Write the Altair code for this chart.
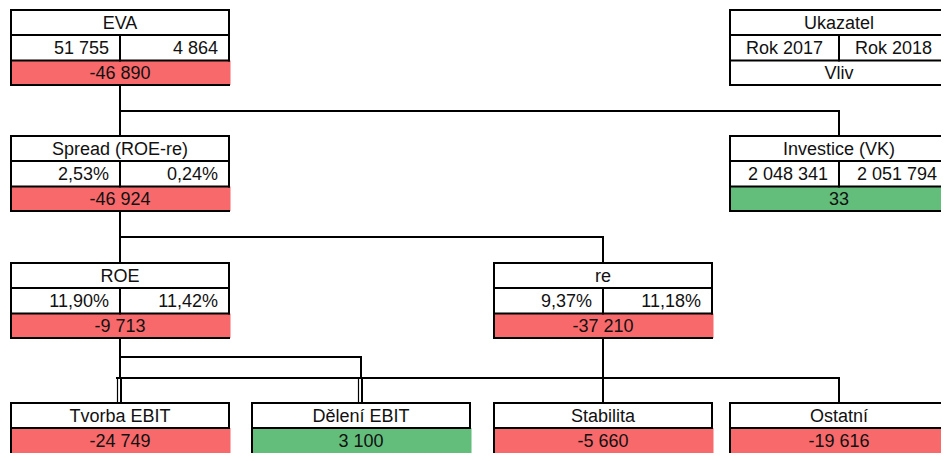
import altair as alt
import pandas as pd

# ---------------- data ----------------
names = ["EVA", "Spread (ROE-re)", "Investice (VK)", "ROE", "re",
         "Tvorba EBIT", "Dělení EBIT", "Stabilita", "Ostatní"]
val_2017 = [51755, 2.53, 2048341, 11.90, 9.37, None, None, None, None]
val_2018 = [4864, 0.24, 2051794, 11.42, 11.18, None, None, None, None]
val_kind = ["num", "pct", "num", "pct", "pct", None, None, None, None]
impact = [-46890, -46924, 33, -9713, -37210, -24749, 3100, -5660, -19616]
legend_texts = ["Ukazatel", "Rok 2017", "Rok 2018", "Vliv"]

# ---------------- layout (grid) ----------------
box_col = [0, 0, 3, 0, 2, 0, 1, 2, 3]
box_level = [0, 1, 1, 2, 2, 3, 3, 3, 3]
parent = [None, 0, 0, 1, 1, 3, 3, 4, 4]
STUB_Y = 378
bus_y = [None, None, 111, None, 237, None, 357, None, STUB_Y]
legend_col, legend_level = 3, 0

COL_LEFT = [11, 252, 494, 730]
LEVEL_TOP = [10, 136, 263, 403]
BOX_W = 218
H_HEAD, H_VAL, H_IMP = 25, 25.5, 24.5
EXTRA_BOTTOM = [0, 0, 0, 6]   # bottom row runs off the lower edge
HALF_CAP = 6.5
RED, GREEN = "#F8696B", "#63BE7B"
FONT = "Liberation Sans"


def fmt_num(v):
    return f"{v:,.0f}".replace(",", " ")


def fmt_pct(v):
    return f"{v:.2f}".replace(".", ",") + "%"


fills, segs, tc, tr = [], [], [], []


def seg(x, x2, y, y2, w=2):
    segs.append(dict(x=x, x2=x2, y=y, y2=y2, w=w))


def box_geom(col, level, has_vals):
    x0 = COL_LEFT[col]
    x1 = x0 + BOX_W
    xm = x0 + BOX_W / 2
    t = LEVEL_TOP[level]
    hb = t + H_HEAD
    vb = hb + H_VAL if has_vals else hb
    b = vb + H_IMP
    return x0, x1, xm, t, hb, vb, b


for i, name in enumerate(names):
    has_vals = val_2017[i] is not None
    x0, x1, xm, t, hb, vb, b = box_geom(box_col[i], box_level[i], has_vals)
    bb = b + EXTRA_BOTTOM[box_level[i]]
    fills.append(dict(x=x0, x2=x1, y=t, y2=vb, kind="white"))
    fills.append(dict(x=x0, x2=x1 + 1.5, y=vb, y2=bb,
                      kind="neg" if impact[i] < 0 else "pos"))
    seg(x0, x1, t, t)
    seg(x0, x1, bb, bb)
    seg(x0, x0, t, bb)
    seg(x1, x1, t, vb)
    seg(x0, x1, hb, hb)
    tc.append(dict(x=xm, y=(t + hb) / 2 + HALF_CAP, label=name))
    if has_vals:
        seg(x0, x1, vb, vb)
        seg(xm, xm, hb, vb)
        f = fmt_num if val_kind[i] == "num" else fmt_pct
        tr.append(dict(x=xm - 11, y=(hb + vb) / 2 + HALF_CAP, label=f(val_2017[i])))
        tr.append(dict(x=x1 - 11, y=(hb + vb) / 2 + HALF_CAP, label=f(val_2018[i])))
    tc.append(dict(x=xm, y=(vb + b) / 2 + HALF_CAP, label=fmt_num(impact[i])))

# legend box
x0, x1, xm, t, hb, vb, b = box_geom(legend_col, legend_level, True)
fills.append(dict(x=x0, x2=x1, y=t, y2=b, kind="white"))
seg(x0, x1, t, t); seg(x0, x1, b, b); seg(x0, x0, t, b); seg(x1, x1, t, b)
seg(x0, x1, hb, hb); seg(x0, x1, vb, vb); seg(xm, xm, hb, vb)
tc.append(dict(x=xm, y=(t + hb) / 2 + HALF_CAP, label=legend_texts[0]))
tc.append(dict(x=(x0 + xm) / 2, y=(hb + vb) / 2 + HALF_CAP, label=legend_texts[1]))
tc.append(dict(x=(xm + x1) / 2, y=(hb + vb) / 2 + HALF_CAP, label=legend_texts[2]))
tc.append(dict(x=xm, y=(vb + b) / 2 + HALF_CAP, label=legend_texts[3]))

# connectors
for c, p in enumerate(parent):
    if p is None:
        continue
    pg = box_geom(box_col[p], box_level[p], val_2017[p] is not None)
    cg = box_geom(box_col[c], box_level[c], val_2017[c] is not None)
    px, pb = pg[2], pg[6]
    cx, ct = cg[2], cg[3]
    doubled = (p == 3)
    end_y = STUB_Y if doubled else ct
    if bus_y[c] is None:
        seg(px, px, pb, end_y)
    else:
        seg(px, px, pb, bus_y[c])
        seg(px, cx, bus_y[c], bus_y[c])
        seg(cx, cx, bus_y[c], end_y)
    if doubled:
        seg(cx - 3, cx + 1, STUB_Y, STUB_Y)
        seg(cx - 2.5, cx - 2.5, STUB_Y, ct, 1.2)
        seg(cx + 1, cx + 1, STUB_Y, ct, 2)
# shared bus line at the bottom level
seg(COL_LEFT[0] + BOX_W / 2 - 3, COL_LEFT[2] + BOX_W / 2, STUB_Y, STUB_Y)

fills_df = pd.DataFrame(fills)
segs_df = pd.DataFrame(segs)
tc_df = pd.DataFrame(tc)
tr_df = pd.DataFrame(tr)

W, H = 933, 445
xs = alt.Scale(domain=[8, 8 + W])
ys = alt.Scale(domain=[8, 8 + H], reverse=True)
X = lambda f: alt.X(f, type="quantitative", scale=xs, axis=None)
Y = lambda f: alt.Y(f, type="quantitative", scale=ys, axis=None)

rects = alt.Chart(fills_df).mark_rect(clip=True).encode(
    x=X("x"), x2="x2", y=Y("y"), y2="y2",
    color=alt.Color("kind:N", scale=alt.Scale(domain=["white", "neg", "pos"],
                                              range=["#ffffff", RED, GREEN]),
                    legend=None),
)
lines = alt.Chart(segs_df).mark_rule(color="#000000", strokeCap="square", clip=True).encode(
    x=X("x"), x2="x2", y=Y("y"), y2="y2",
    strokeWidth=alt.StrokeWidth("w:Q", scale=None),
)
txt_c = alt.Chart(tc_df).mark_text(align="center", baseline="alphabetic", font=FONT,
                                   fontSize=18, color="#111111", clip=True).encode(
    x=X("x"), y=Y("y"), text="label:N")
txt_r = alt.Chart(tr_df).mark_text(align="right", baseline="alphabetic", font=FONT,
                                   fontSize=18, color="#111111", clip=True).encode(
    x=X("x"), y=Y("y"), text="label:N")

chart = alt.layer(rects, lines, txt_c, txt_r).properties(
    width=W, height=H, padding=0, autosize=alt.AutoSizeParams(type="none")
).configure_view(strokeWidth=0)

chart.save("out.html", embed_options={"renderer": "svg", "actions": False})
